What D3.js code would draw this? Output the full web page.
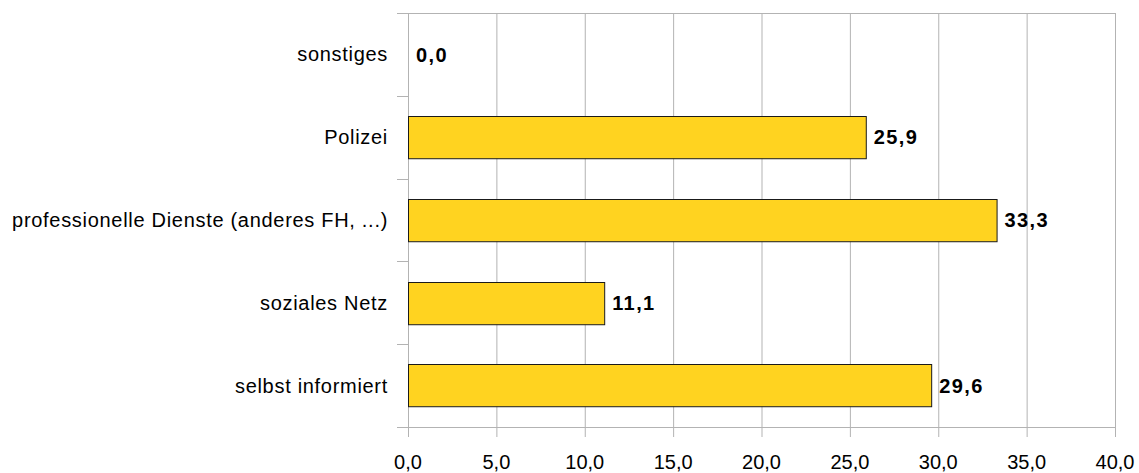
<!DOCTYPE html>
<html>
<head>
<meta charset="utf-8">
<script src="https://cdn.jsdelivr.net/npm/d3@7"></script>
<style>
  body { margin: 0; background: #fff; }
  svg { display: block; font-family: "Liberation Sans", Arial, sans-serif; }
</style>
</head>
<body>
<script>
// data
const categories = ["sonstiges", "Polizei", "professionelle Dienste (anderes FH, ...)", "soziales Netz", "selbst informiert"];
const values = [0.0, 25.9, 33.3, 11.1, 29.6];
const xTicks = [0, 5, 10, 15, 20, 25, 30, 35, 40];

const W = 1139, H = 473;
const margin = {top: 13, right: 24, bottom: 46, left: 408};
const width = W - margin.left - margin.right,
    height = H - margin.top - margin.bottom;

const fmt = v => d3.format(".1f")(v).replace(".", ",");

const svg = d3.select("body").append("svg")
    .attr("width", W)
    .attr("height", H);

const g = svg.append("g")
    .attr("transform", "translate(" + margin.left + "," + margin.top + ")");

const x = d3.scaleLinear().domain([0, 40]).range([0, width]);
const y = d3.scaleBand().domain(categories).range([0, height]).paddingInner(0.49).paddingOuter(0.245);

// band edges for the tick marks on the category axis
const bandEdges = d3.range(categories.length + 1).map(i => i * height / categories.length);

// vertical grid
g.selectAll(".grid")
    .data(xTicks)
    .enter().append("line")
    .attr("x1", d => x(d) + 0.5).attr("x2", d => x(d) + 0.5)
    .attr("y1", 0).attr("y2", height + 10)
    .attr("stroke", "#b3b3b3").attr("stroke-width", 1);

// category axis ticks
g.selectAll(".ytick")
    .data(bandEdges)
    .enter().append("line")
    .attr("x1", -11).attr("x2", 0)
    .attr("y1", d => Math.round(d) + 0.5).attr("y2", d => Math.round(d) + 0.5)
    .attr("stroke", "#b3b3b3");

// top line and bottom axis line
g.append("line").attr("x1", -11).attr("x2", width).attr("y1", 0.5).attr("y2", 0.5).attr("stroke", "#b3b3b3");
g.append("line").attr("x1", -11).attr("x2", width).attr("y1", height + 0.5).attr("y2", height + 0.5).attr("stroke", "#b3b3b3");

// bars
g.selectAll(".bar")
    .data(values)
    .enter().append("rect")
    .attr("x", x(0) + 0.5)
    .attr("y", (d, i) => Math.round(y(categories[i])) + 0.5)
    .attr("width", d => x(d))
    .attr("height", y.bandwidth())
    .attr("fill", "#ffd320")
    .attr("stroke", "#1a1a1a")
    .attr("stroke-width", 1)
    .style("display", d => d > 0 ? null : "none");

// value labels
g.selectAll(".val")
    .data(values)
    .enter().append("text")
    .attr("x", d => x(d) + 8)
    .attr("y", (d, i) => y(categories[i]) + y.bandwidth() / 2)
    .attr("dy", "0.36em")
    .style("font-size", "20px")
    .style("font-weight", "bold")
    .style("letter-spacing", "1.4px")
    .attr("fill", "#000")
    .text(d => fmt(d));

// category labels
g.selectAll(".cat")
    .data(categories)
    .enter().append("text")
    .attr("x", -20)
    .attr("y", d => y(d) + y.bandwidth() / 2)
    .attr("dy", "0.35em")
    .attr("text-anchor", "end")
    .style("font-size", "20px")
    .style("letter-spacing", "0.7px")
    .attr("fill", "#000")
    .text(d => d);

// x tick labels
g.selectAll(".xlab")
    .data(xTicks)
    .enter().append("text")
    .attr("x", d => x(d))
    .attr("y", height + 35)
    .attr("dy", "0.35em")
    .attr("text-anchor", "middle")
    .style("font-size", "20px")
    .attr("fill", "#000")
    .text(d => fmt(d));
</script>
</body>
</html>
